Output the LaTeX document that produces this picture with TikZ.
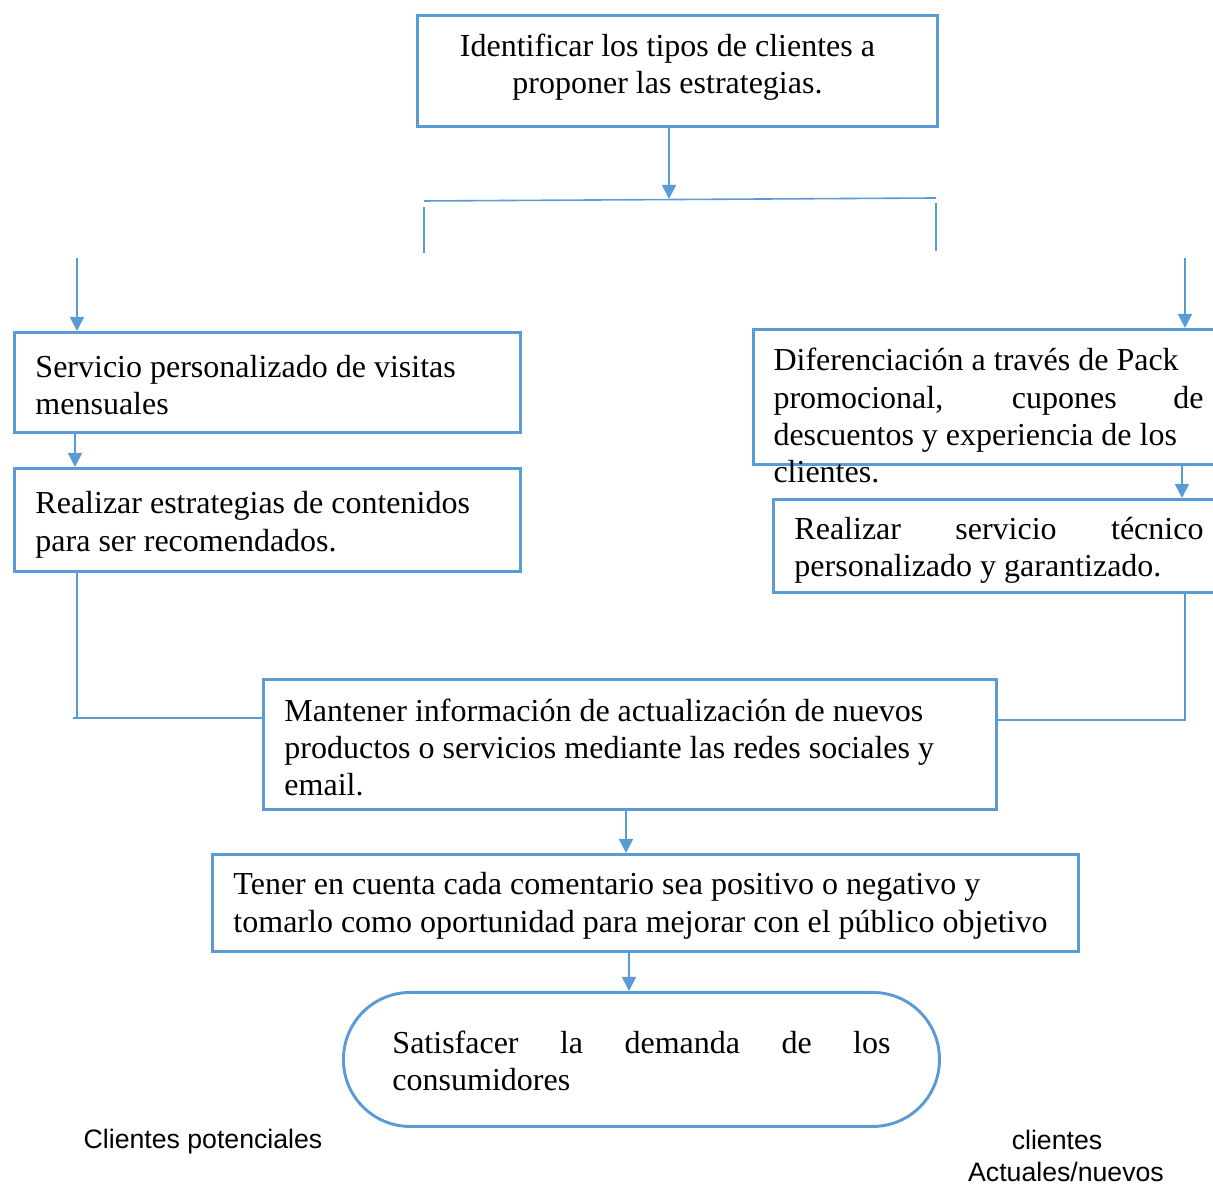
\documentclass[tikz,border=0pt]{standalone}
\usepackage{fontspec}
\setmainfont{Liberation Serif}
\setsansfont{Liberation Sans}
\usetikzlibrary{arrows.meta,positioning}
\definecolor{flowblue}{RGB}{91,155,213}
\newlength\pxu
\setlength\pxu{0.375pt}
\newcommand\fullline[1]{\makebox[\hsize][s]{#1}}
\tikzset{%
	box/.style   = {draw=flowblue, line width=1.1pt, rectangle, anchor=north west, inner xsep=21\pxu, inner ysep=0pt, align=flush left, font=\fontsize{12}{13.9}\selectfont},
	txt/.style   = {inner xsep=0pt, inner ysep=0pt, align=flush left, font=\fontsize{12}{13.9}\selectfont},
	lbl/.style   = {inner sep=0pt, font=\sffamily\fontsize{10}{12.2}\selectfont},
	line/.style  = {draw=flowblue, line width=0.6pt},
	arrow/.style = {line, -{Triangle[length=5.3pt,width=5.3pt]}},
}
\begin{document}
\begin{tikzpicture}[x=0.375pt,y=-0.375pt]
	\clip (0,0) rectangle (1213,1185);
	
	\node[box, text width=478\pxu, align=flush center, text height=5.95pt, minimum height=111\pxu] (tipos) at (416,14) {Identificar los tipos de clientes a\kern20\pxu\\ proponer las estrategias.\kern20\pxu};
	
	% rama izquierda
	\node[box, text width=464\pxu, text height=9.95pt, minimum height=100\pxu] (visitas) at (13,331) {Servicio personalizado de visitas\\ mensuales};
	\node[box, text width=464\pxu, text height=11.95pt, minimum height=103\pxu] (contenidos) at (13,467) {Realizar estrategias de contenidos\\ para ser recomendados.};
	
	% rama derecha
	\node[box, minimum width=480\pxu, minimum height=135\pxu] (pack) at (752,328) {};
	\node[txt, text width=430\pxu, anchor=base west] (packtxt) at (773,371) {Diferenciación a través de Pack\\ \fullline{promocional, cupones de}\\ descuentos y experiencia de los\\ clientes.};
	\node[box, text width=409\pxu, text height=11.95pt, minimum height=93\pxu] (tecnico) at (772,498) {\fullline{Realizar servicio técnico}\\ personalizado y garantizado.};
	
	% centro
	\node[box, text width=691\pxu, text height=10.45pt, minimum height=130\pxu] (redes) at (262,678) {Mantener información de actualización de nuevos\\ productos o servicios mediante las redes sociales y\\ email.};
	\node[box, text width=824\pxu, text height=10.45pt, minimum height=97\pxu] (comentario) at (211,853) {Tener en cuenta cada comentario sea positivo o negativo y\\ tomarlo como oportunidad para mejorar con el público objetivo};
	\node[box, text width=498\pxu, text height=9.7pt, inner xsep=49\pxu, minimum height=134\pxu, rounded corners=25pt] (demanda) at (342,991) {\fullline{Satisfacer la demanda de los}\\ consumidores};
	
	\node[lbl] (potenciales) at (203,1142) {Clientes potenciales};
	\node[lbl, align=center] (actuales) at (1062,1156) {clientes\hspace*{10\pxu}\\ \hspace*{8\pxu}Actuales/nuevos};
	
	\coordinate (split) at (669,199);
	\coordinate (hl) at (424,201);
	\coordinate (hr) at (936,198);
	\coordinate (lin) at (77,258);
	\coordinate (rin) at (1185,258);
	\coordinate (ljoin) at (73,718);
	\coordinate (rjoin) at (1185,720);
	\coordinate (lx) at (75,0);
	\coordinate (rx) at (1182,0);
	\coordinate (cx1) at (626,0);
	\coordinate (cx2) at (629,0);
	
	\draw[arrow] (tipos.south -| split) -- (split);
	\draw[line] (hl) -- (hr);
	\draw[line] (424,207) -- (424,253);
	\draw[line] (936,203) -- (936,251);
	
	\draw[arrow] (lin) -- (lin |- visitas.north);
	\draw[arrow] (visitas.south -| lx) -- (contenidos.north -| lx);
	\draw[line] (contenidos.south -| lin) -- (lin |- ljoin);
	\draw[line] (ljoin) -- (ljoin -| redes.west);
	
	\draw[arrow] (rin) -- (rin |- pack.north);
	\draw[arrow] (pack.south -| rx) -- (tecnico.north -| rx);
	\draw[line] (tecnico.south -| rin) |- (rjoin -| redes.east);
	
	\draw[arrow] (redes.south -| cx1) -- (comentario.north -| cx1);
	\draw[arrow] (comentario.south -| cx2) -- (demanda.north -| cx2);
\end{tikzpicture}
\end{document}
